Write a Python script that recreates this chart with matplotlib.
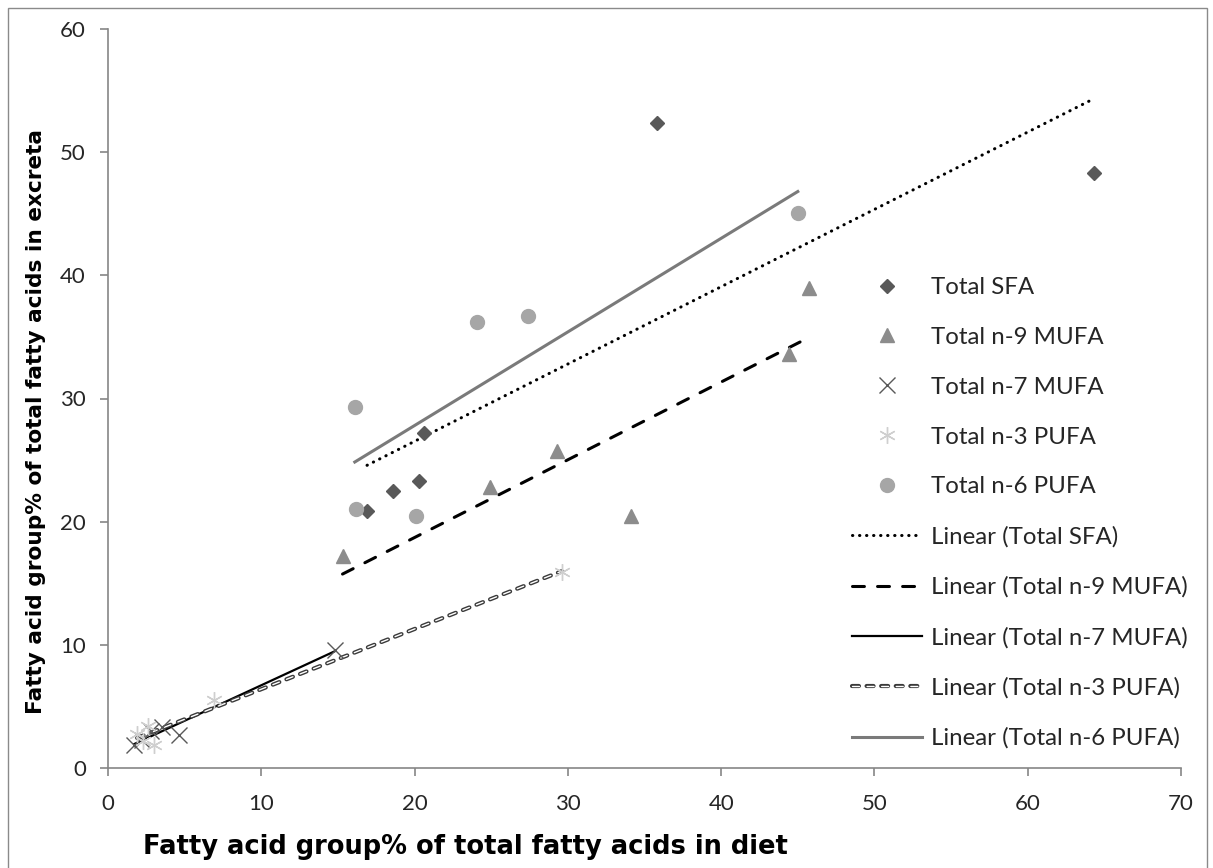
import numpy as np
import matplotlib.pyplot as plt
import matplotlib.patheffects as pe
from matplotlib.patches import Rectangle

# data (diet %, excreta %)
sfa_x = [35.8, 64.3, 20.6, 20.3, 18.6, 16.9]
sfa_y = [52.4, 48.3, 27.2, 23.3, 22.5, 20.9]

n9_x = [45.7, 44.4, 29.3, 24.9, 34.1, 15.3]
n9_y = [39.0, 33.6, 25.7, 22.8, 20.5, 17.2]

n7_x = [1.7, 2.2, 2.8, 4.6, 3.5, 14.8]
n7_y = [1.9, 2.3, 3.0, 2.7, 3.3, 9.6]

n3_x = [1.9, 2.6, 3.0, 6.9, 29.6, 2.3]
n3_y = [2.8, 3.4, 1.9, 5.5, 15.9, 2.2]

n6_x = [16.1, 24.1, 27.4, 45.0, 16.2, 20.1]
n6_y = [29.3, 36.2, 36.7, 45.1, 21.0, 20.5]

names = ["Total SFA", "Total n-9 MUFA", "Total n-7 MUFA", "Total n-3 PUFA", "Total n-6 PUFA"]

plt.rcParams['font.family'] = ['Lato', 'DejaVu Sans']

fig = plt.figure(figsize=(12.13, 8.68), dpi=100)
ax = fig.add_axes([108/1213, 100/868, 1073/1213, 739/868])

series = [(sfa_x, sfa_y), (n9_x, n9_y), (n7_x, n7_y), (n3_x, n3_y), (n6_x, n6_y)]
mstyle = [dict(marker='D', ms=7, color='#595959', mec='#595959'),
          dict(marker='^', ms=10, color='#8c8c8c', mec='#8c8c8c'),
          dict(marker='x', ms=11, mew=1.0, color='#595959'),
          dict(marker=(6, 2, 0), ms=12, mew=1.0, color='#cfcfcf'),
          dict(marker='o', ms=10, color='#a6a6a6', mec='#a6a6a6')]

handles = []
for (xs, ys), name, st in zip(series, names, mstyle):
    h, = ax.plot(xs, ys, ls='none', label=name, zorder=3, **st)
    handles.append(h)

# linear trend lines (least squares, like Excel)
lstyle = [dict(color='black', lw=2.2, ls=(0, (0.1, 2.2)), dash_capstyle='round'),
          dict(color='black', lw=2.2, ls=(0, (3.9, 4.3)), dash_capstyle='round'),
          dict(color='black', lw=1.6, ls='-'),
          dict(color='white', lw=1.0, ls=(0, (5.0, 5.5)), dash_capstyle='round',
               path_effects=[pe.Stroke(linewidth=3.0, foreground='#3a3a3a'), pe.Normal()]),
          dict(color='#7a7a7a', lw=2.2, ls='-')]
for (xs, ys), name, st in zip(series, names, lstyle):
    xs = np.array(xs)
    k, b = np.polyfit(xs, ys, 1)
    xx = np.array([xs.min(), xs.max()])
    h, = ax.plot(xx, k * xx + b, label="Linear (" + name + ")", zorder=2, **st)
    handles.append(h)

ax.set_xlim(0, 70)
ax.set_ylim(0, 60)
ax.set_xticks(np.arange(0, 71, 10))
ax.set_yticks(np.arange(0, 61, 10))
for s in ['top', 'right']:
    ax.spines[s].set_visible(False)
for s in ['left', 'bottom']:
    ax.spines[s].set_color('#868686')
    ax.spines[s].set_linewidth(1.2)
ax.tick_params(direction='out', length=6, width=1.2, color='#868686',
               labelsize=16, labelcolor='#262626')
ax.tick_params(axis='y', pad=10)
ax.tick_params(axis='x', pad=13)

leg = fig.legend(handles=handles, loc='upper left', bbox_to_anchor=(852/1213, 591/868),
                 frameon=False, fontsize=17.3, handlelength=2.9, handletextpad=0.37,
                 labelspacing=1.2, borderpad=0, borderaxespad=0)
for t in leg.get_texts():
    t.set_color('#262626')

fig.text(465/1213, 21/868, "Fatty acid group% of total fatty acids in diet",
         ha='center', va='center', fontsize=18.5, fontweight='bold',
         family=['DejaVu Sans'], color='black')
fig.text(36/1213, 446/868, "Fatty acid group% of total fatty acids in excreta",
         ha='center', va='center', rotation=90, fontsize=15.6, fontweight='bold',
         family=['Liberation Sans Narrow', 'DejaVu Sans'], color='black')

fig.patches.append(Rectangle((8/1213, -0.02), 1199/1213, 0.02 + 860/868,
                             transform=fig.transFigure, fill=False,
                             edgecolor='#8a8a8a', lw=1.0))

plt.savefig("out.png", dpi=100)
